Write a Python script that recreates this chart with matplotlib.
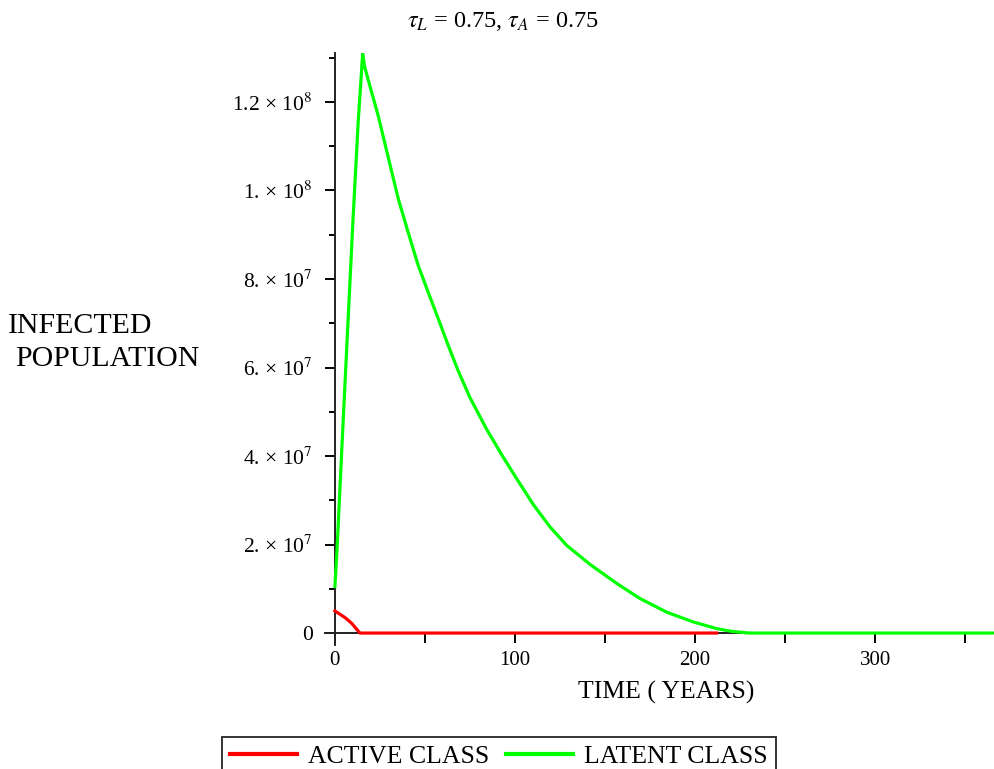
import matplotlib
matplotlib.use("Agg")
import matplotlib.pyplot as plt
from matplotlib.ticker import FixedLocator
from matplotlib.lines import Line2D

plt.rcParams['font.family'] = ['Liberation Serif', 'DejaVu Serif']
plt.rcParams['mathtext.fontset'] = 'stix'

# Данные
t_latent = [0, 1.2, 4, 7, 10, 13, 14.8, 15.4, 16.5, 18.5, 24.1, 29.6, 35.2, 40.7,
            46.3, 51.8, 57.4, 62.9, 68.5, 75, 84.3, 93.5, 100.9, 110.2, 119.4,
            128.7, 141.7, 156.5, 169.4, 184.3, 199, 212, 220, 230, 365]
latent = [1.05e7, 1.9e7, 4.3e7, 6.8e7, 9.3e7, 1.16e8, 1.27e8, 1.31e8, 1.28e8,
          1.25e8, 1.168e8, 1.075e8, 9.81e7, 9.05e7, 8.3e7, 7.7e7, 7.1e7, 6.5e7,
          5.92e7, 5.32e7, 4.6e7, 3.97e7, 3.49e7, 2.9e7, 2.4e7, 1.98e7, 1.55e7,
          1.12e7, 7.8e6, 4.7e6, 2.5e6, 1.0e6, 4e5, 0, 0]

t_active = [0, 5.6, 9.3, 13.9, 212]
active = [5e6, 3.5e6, 2.2e6, 0, 0]

y_ticks = [0, 2e7, 4e7, 6e7, 8e7, 1e8, 1.2e8]
y_labels = ['0', '2. × 10$^{7}$', '4. × 10$^{7}$', '6. × 10$^{7}$',
            '8. × 10$^{7}$', '1. × 10$^{8}$', '1.2 × 10$^{8}$']
y_minor = [1e7, 3e7, 5e7, 7e7, 9e7, 1.1e8, 1.3e8]
x_ticks = [0, 100, 200, 300]
x_minor = [50, 150, 250, 350]

fig = plt.figure(figsize=(9.95, 7.69), dpi=100)
ax = fig.add_axes([325 / 995, 1 - 645 / 769, 670 / 995, (645 - 53.3) / 769])

ax.plot(t_latent, latent, color='#00ff00', linewidth=2.3, zorder=3)
ax.plot(t_active, active, color='#ff0000', linewidth=2.3, zorder=4)

ax.set_xlim(-5.5, 366.5)
ax.set_ylim(-2.7e6, 1.31e8)

for s in ['top', 'right']:
    ax.spines[s].set_visible(False)
ax.spines['left'].set_position(('data', 0))
ax.spines['bottom'].set_position(('data', 0))
for s in ['left', 'bottom']:
    ax.spines[s].set_linewidth(1.4)
    ax.spines[s].set_color('#222222')

ax.yaxis.set_major_locator(FixedLocator(y_ticks))
ax.set_yticklabels(y_labels)
ax.yaxis.set_minor_locator(FixedLocator(y_minor))
ax.xaxis.set_major_locator(FixedLocator(x_ticks))
ax.xaxis.set_minor_locator(FixedLocator(x_minor))

ax.tick_params(axis='y', which='major', length=7, width=1.4, pad=9, labelsize=15.5)
ax.tick_params(axis='y', which='minor', length=4.5, width=1.4)
ax.tick_params(axis='x', which='both', length=7, width=1.4, pad=6, labelsize=15)

fig.text(0.505, 0.972, r'$\tau_L$ = 0.75, $\tau_A$ = 0.75', ha='center', va='center', fontsize=17.5)
fig.text(666 / 995, 1 - 692 / 769, 'TIME ( YEARS)', ha='center', va='center', fontsize=18.5)
fig.text(8 / 995, 1 - 326 / 769, 'INFECTED', ha='left', va='center', fontsize=21.5)
fig.text(15 / 995, 1 - 359 / 769, 'POPULATION', ha='left', va='center', fontsize=21.5)

handles = [Line2D([], [], color='#ff0000', linewidth=3),
           Line2D([], [], color='#00ff00', linewidth=3)]
leg = fig.legend(handles, ['ACTIVE CLASS', 'LATENT CLASS'], loc='upper left',
                 bbox_to_anchor=(222 / 995, 1 - 737 / 769), ncol=2, fontsize=18.5,
                 fancybox=False, framealpha=1, edgecolor='#333333',
                 handlelength=2.6, handletextpad=0.45, columnspacing=0.65,
                 borderaxespad=0, borderpad=0.3)
leg.get_frame().set_linewidth(1.4)

plt.savefig('out.png', dpi=100)
